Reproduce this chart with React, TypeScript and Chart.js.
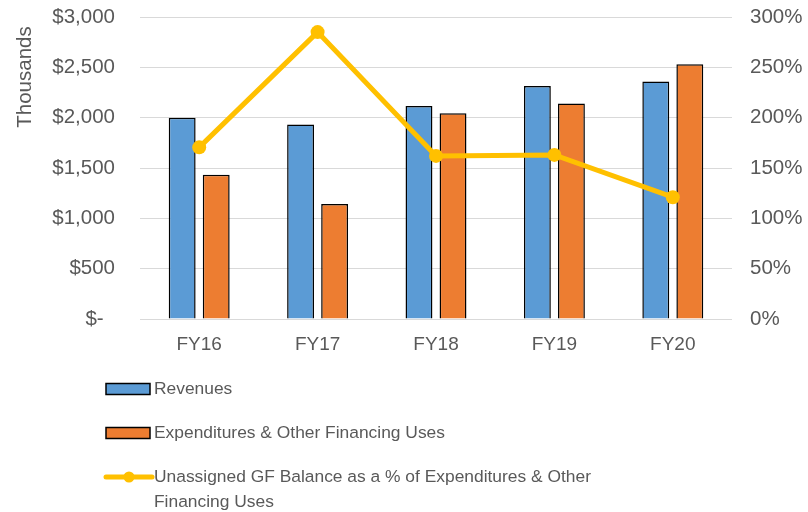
import React, { useEffect, useRef } from "react";
import { Chart, registerables } from "chart.js";

Chart.register(...registerables);

const categories = ["FY16", "FY17", "FY18", "FY19", "FY20"];
const revenues = [2000, 1933, 2115, 2315, 2360];
const expenditures = [1433, 1142, 2043, 2140, 2530];
const balancePct = [170.5, 285, 162, 163, 121];
const leftTicks = [0, 500, 1000, 1500, 2000, 2500, 3000];
const rightTicks = [0, 50, 100, 150, 200, 250, 300];

const seriesNames = [
  "Revenues",
  "Expenditures & Other Financing Uses",
  "Unassigned GF Balance as a % of Expenditures & Other Financing Uses",
];
const legendLines = [
  ["Revenues"],
  ["Expenditures & Other Financing Uses"],
  ["Unassigned GF Balance as a % of Expenditures & Other", "Financing Uses"],
];

const BLUE = "#5B9BD5";
const ORANGE = "#ED7D31";
const GOLD = "#FFC000";
const TEXT = "#595959";
const GRID = "#D9D9D9";
const FONT = "'Liberation Sans', Arial, sans-serif";

const customPlugin = {
  id: "customLegend",
  afterDraw(chart: any) {
    const ctx = chart.ctx;
    ctx.save();
    ctx.fillStyle = TEXT;
    ctx.font = `20.5px ${FONT}`;
    ctx.textAlign = "center";
    ctx.textBaseline = "middle";
    ctx.translate(25, 77);
    ctx.rotate(-Math.PI / 2);
    ctx.fillText("Thousands", 0, 0);
    ctx.restore();

    ctx.save();
    ctx.font = `17.4px ${FONT}`;
    ctx.textAlign = "left";
    ctx.textBaseline = "middle";
    const rows = [389, 433, 477];
    const x0 = 106;
    const boxW = 44;
    for (let i = 0; i < 3; i++) {
      const y = rows[i];
      if (i < 2) {
        ctx.fillStyle = i === 0 ? BLUE : ORANGE;
        ctx.fillRect(x0, y - 5.5, boxW, 11);
        ctx.strokeStyle = "#000";
        ctx.lineWidth = 1.5;
        ctx.strokeRect(x0, y - 5.5, boxW, 11);
      } else {
        ctx.strokeStyle = GOLD;
        ctx.lineWidth = 5;
        ctx.lineCap = "round";
        ctx.beginPath();
        ctx.moveTo(x0, y);
        ctx.lineTo(x0 + 46, y);
        ctx.stroke();
        ctx.fillStyle = GOLD;
        ctx.beginPath();
        ctx.arc(x0 + 23, y, 5.5, 0, Math.PI * 2);
        ctx.fill();
      }
      ctx.fillStyle = TEXT;
      legendLines[i].forEach((t, j) => {
        ctx.fillText(t, 154, y + j * 25);
      });
    }
    ctx.restore();
  },
};

const zeroPad = (s: any) => {
  s.paddingTop = 0;
  s.paddingBottom = 0;
};

export default function App() {
  const ref = useRef<HTMLCanvasElement | null>(null);
  useEffect(() => {
    if (!ref.current) return;
    const chart = new Chart(ref.current, {
      type: "bar",
      data: {
        labels: categories,
        datasets: [
          {
            type: "line",
            label: seriesNames[2],
            data: balancePct,
            yAxisID: "y1",
            borderColor: GOLD,
            backgroundColor: GOLD,
            borderWidth: 5,
            pointRadius: 7,
            pointHoverRadius: 7,
            pointBackgroundColor: GOLD,
            pointBorderWidth: 0,
            tension: 0,
            order: 0,
          } as any,
          {
            label: seriesNames[0],
            data: revenues,
            backgroundColor: BLUE,
            borderColor: "#000",
            borderWidth: 1.5,
            yAxisID: "y",
            categoryPercentage: 0.575,
            barPercentage: 0.79,
            order: 1,
          },
          {
            label: seriesNames[1],
            data: expenditures,
            backgroundColor: ORANGE,
            borderColor: "#000",
            borderWidth: 1.5,
            yAxisID: "y",
            categoryPercentage: 0.575,
            barPercentage: 0.79,
            order: 1,
          },
        ],
      },
      options: {
        responsive: false,
        animation: false,
        layout: { padding: { top: 17, left: 0, right: 0, bottom: 0 } },
        plugins: {
          legend: { display: false },
          tooltip: { enabled: false },
        },
        scales: {
          x: {
            grid: { display: false, drawTicks: false },
            border: { display: false },
            ticks: {
              color: TEXT,
              font: { family: FONT, size: 19 },
              padding: 14,
            },
            afterFit: (s: any) => {
              s.height = 193;
              s.paddingTop = 0;
            },
          },
          y: {
            position: "left",
            min: 0,
            max: 3000,
            afterBuildTicks: (s: any) => {
              s.ticks = leftTicks.map((v) => ({ value: v }));
            },
            grid: { color: GRID, lineWidth: 1, drawTicks: false },
            border: { display: false },
            ticks: {
              color: TEXT,
              font: { family: FONT, size: 20.5 },
              padding: 25,
              callback: (v: any) =>
                Number(v) === 0 ? "$-  " : "$" + Number(v).toLocaleString("en-US"),
            },
            afterFit: (s: any) => {
              s.width = 140;
              zeroPad(s);
            },
          },
          y1: {
            position: "right",
            min: 0,
            max: 300,
            afterBuildTicks: (s: any) => {
              s.ticks = rightTicks.map((v) => ({ value: v }));
            },
            grid: { display: false, drawTicks: false },
            border: { display: false },
            ticks: {
              color: TEXT,
              font: { family: FONT, size: 20.5 },
              padding: 18,
              callback: (v: any) => v + "%",
            },
            afterFit: (s: any) => {
              s.width = 76;
              zeroPad(s);
            },
          },
        },
      },
      plugins: [customPlugin],
    });
    return () => chart.destroy();
  }, []);
  return (
    <div style={{ position: "absolute", left: 0, top: 0, width: 808, height: 512, background: "#fff" }}>
      <canvas ref={ref} width={808} height={512} style={{ display: "block" }} />
    </div>
  );
}
